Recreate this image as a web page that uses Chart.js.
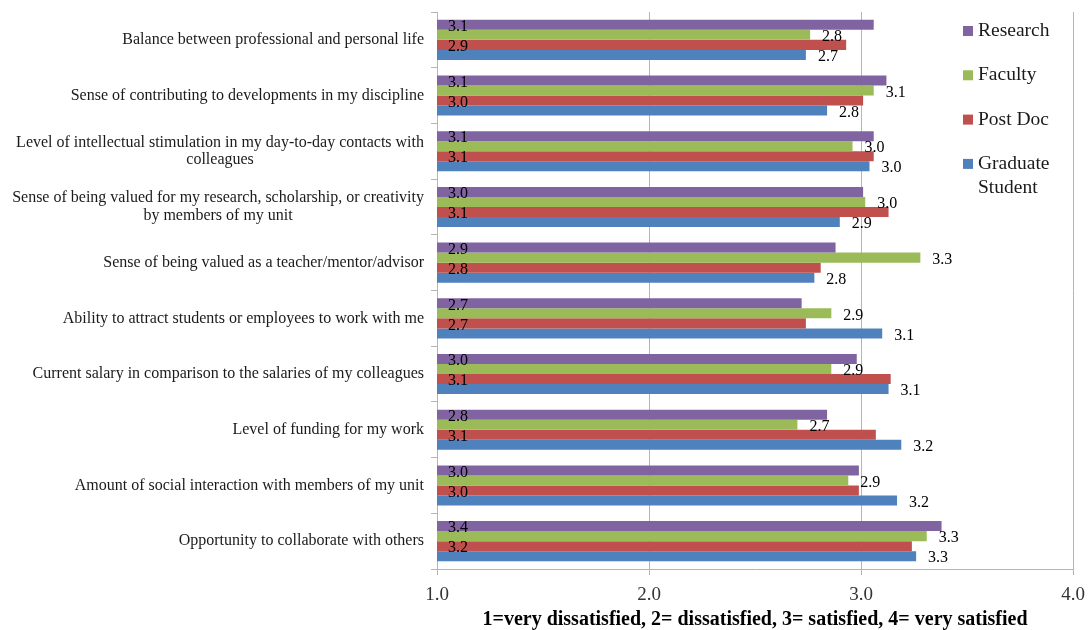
<!DOCTYPE html>
<html>
<head>
<meta charset="utf-8">
<script src="https://cdn.jsdelivr.net/npm/chart.js@4.4.0/dist/chart.umd.min.js"></script>
<style>
  html, body { margin: 0; padding: 0; background: #fff; }
  #wrap { width: 1090px; height: 630px; }
</style>
</head>
<body>
<div id="wrap"><canvas id="myChart"></canvas></div>
<script>
// category labels (one entry per line)
const categories = [
  ["Balance between professional and personal life"],
  ["Sense of contributing to developments in my discipline"],
  ["Level of intellectual stimulation in my day-to-day contacts with", "colleagues"],
  ["Sense of being valued for my research, scholarship, or creativity", "by members of my unit"],
  ["Sense of being valued as a teacher/mentor/advisor"],
  ["Ability to attract students or employees to work with me"],
  ["Current salary in comparison to the salaries of my colleagues"],
  ["Level of funding for my work"],
  ["Amount of social interaction with members of my unit"],
  ["Opportunity to collaborate with others"]
];

// mean ratings per group
const research = [3.06, 3.12, 3.06, 3.01, 2.88, 2.72, 2.98, 2.84, 2.99, 3.38];
const faculty  = [2.76, 3.06, 2.96, 3.02, 3.28, 2.86, 2.86, 2.70, 2.94, 3.31];
const postDoc  = [2.93, 3.01, 3.06, 3.13, 2.81, 2.74, 3.14, 3.07, 2.99, 3.24];
const gradStudent = [2.74, 2.84, 3.04, 2.90, 2.78, 3.10, 3.13, 3.19, 3.17, 3.26];

const seriesNames = [["Research"], ["Faculty"], ["Post Doc"], ["Graduate", "Student"]];
const seriesColors = ["#8064A2", "#9BBB59", "#C0504D", "#4F81BD"];
const xTicks = [1, 2, 3, 4];
const xTitle = "1=very dissatisfied, 2= dissatisfied, 3= satisfied, 4= very satisfied";

const serif = "'Liberation Serif', 'Times New Roman', serif";

// y labels, value labels and legend drawn by hand
const extras = {
  id: "extras",
  afterDraw(chart) {
    const ctx = chart.ctx;
    const yScale = chart.scales.y;
    const xScale = chart.scales.x;
    ctx.save();
    ctx.fillStyle = "#1a1a1a";

    // category labels, each block right aligned, lines centered in the block
    ctx.font = "16px " + serif;
    ctx.textBaseline = "middle";
    ctx.textAlign = "center";
    categories.forEach((lines, i) => {
      const yc = yScale.getPixelForValue(i);
      const blockW = Math.max(...lines.map(l => ctx.measureText(l).width));
      const cx = 424 - blockW / 2;
      lines.forEach((l, j) => {
        ctx.fillText(l, cx, yc + (j - (lines.length - 1) / 2) * 17.5);
      });
    });

    // value labels: Research / Post Doc at the start, the others past the bar end
    ctx.textAlign = "left";
    ctx.fillStyle = "#000";
    const startX = xScale.getPixelForValue(xScale.min);
    chart.data.datasets.forEach((ds, d) => {
      const meta = chart.getDatasetMeta(d);
      meta.data.forEach((bar, i) => {
        const x = (d % 2 === 0) ? startX + 11 : bar.x + 12;
        ctx.fillText(ds.data[i].toFixed(1), x, bar.y + 2);
      });
    });

    // legend inside the plot
    ctx.font = "19.5px " + serif;
    seriesNames.forEach((lines, k) => {
      const y0 = 31 + k * 44.3;
      ctx.fillStyle = seriesColors[k];
      ctx.fillRect(963, y0 - 5, 10, 10);
      ctx.fillStyle = "#1a1a1a";
      lines.forEach((l, j) => ctx.fillText(l, 978, y0 + j * 23.5));
    });
    ctx.restore();
  }
};

const ctx = document.getElementById("myChart").getContext("2d");
const myChart = new Chart(ctx, {
  type: "bar",
  data: {
    labels: categories.map(c => c.join(" ")),
    datasets: [
      { label: "Research", data: research, backgroundColor: seriesColors[0] },
      { label: "Faculty", data: faculty, backgroundColor: seriesColors[1] },
      { label: "Post Doc", data: postDoc, backgroundColor: seriesColors[2] },
      { label: "Graduate Student", data: gradStudent, backgroundColor: seriesColors[3] }
    ]
  },
  options: {
    indexAxis: "y",
    responsive: true,
    maintainAspectRatio: false,
    animation: false,
    categoryPercentage: 0.72,
    barPercentage: 1,
    layout: { padding: { top: 12, right: 17, left: 0, bottom: 0 } },
    plugins: {
      legend: { display: false },
      tooltip: { enabled: false }
    },
    scales: {
      x: {
        type: "linear",
        min: 1,
        max: 4,
        afterBuildTicks: s => { s.ticks = xTicks.map(v => ({ value: v })); },
        ticks: {
          callback: v => v.toFixed(1),
          font: { family: serif, size: 19 },
          color: "#333",
          padding: 9
        },
        grid: { color: "#b5b5b5", tickLength: 6 },
        border: { color: "#b5b5b5" },
        title: {
          display: true,
          text: xTitle,
          color: "#000",
          font: { family: serif, size: 20, weight: "bold" },
          padding: { top: 0, bottom: -2 }
        },
        afterFit: s => { s.height = 61; s.paddingLeft = 0; s.paddingRight = 0; }
      },
      y: {
        ticks: { display: false },
        grid: { drawOnChartArea: false, tickLength: 6, color: "#b5b5b5", offset: true },
        border: { color: "#b5b5b5" },
        afterFit: s => { s.width = 437; }
      }
    }
  },
  plugins: [extras]
});
</script>
</body>
</html>
